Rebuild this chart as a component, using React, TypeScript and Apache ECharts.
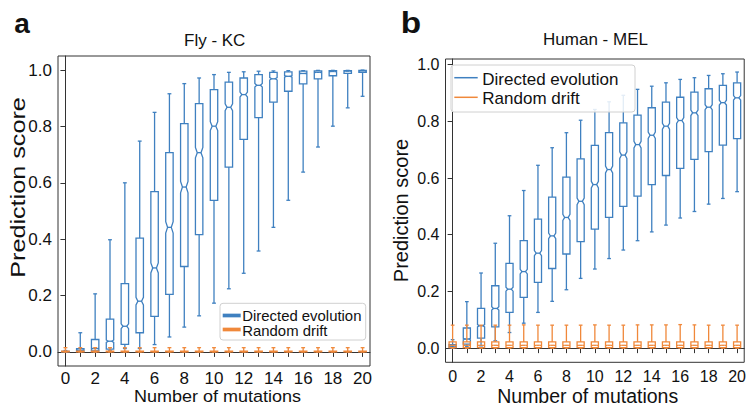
import React, { useEffect, useRef } from 'react';
import * as echarts from 'echarts';

// positions (number of mutations)
const positions = [0, 1, 2, 3, 4, 5, 6, 7, 8, 9, 10, 11, 12, 13, 14, 15, 16, 17, 18, 19, 20];

// [lower whisker, Q1, median, Q3, upper whisker]
const flyDirected = [
  [0.0, 0.0, 0.001, 0.002, 0.005],
  [0.0, 0.003, 0.006, 0.012, 0.068],
  [0.0, 0.004, 0.012, 0.044, 0.206],
  [0.004, 0.01, 0.038, 0.116, 0.398],
  [0.012, 0.027, 0.091, 0.242, 0.6],
  [0.012, 0.068, 0.18, 0.404, 0.748],
  [0.026, 0.126, 0.298, 0.569, 0.85],
  [0.053, 0.204, 0.442, 0.707, 0.916],
  [0.088, 0.303, 0.585, 0.81, 0.952],
  [0.128, 0.416, 0.707, 0.881, 0.972],
  [0.173, 0.538, 0.801, 0.931, 0.984],
  [0.224, 0.656, 0.868, 0.957, 0.992],
  [0.279, 0.754, 0.913, 0.972, 0.994],
  [0.358, 0.831, 0.946, 0.984, 0.996],
  [0.442, 0.886, 0.969, 0.992, 0.997],
  [0.538, 0.925, 0.978, 0.994, 0.998],
  [0.638, 0.951, 0.988, 0.996, 0.998],
  [0.727, 0.969, 0.992, 0.997, 0.999],
  [0.801, 0.98, 0.995, 0.998, 0.999],
  [0.866, 0.988, 0.996, 0.998, 0.999],
  [0.907, 0.992, 0.997, 0.999, 1.0],
];

const flyDrift = [
  [0.0, 0.0, 0.001, 0.003, 0.015],
  [0.0, 0.0, 0.001, 0.003, 0.015],
  [0.0, 0.0, 0.001, 0.003, 0.015],
  [0.0, 0.0, 0.001, 0.003, 0.015],
  [0.0, 0.0, 0.001, 0.003, 0.015],
  [0.0, 0.0, 0.001, 0.003, 0.015],
  [0.0, 0.0, 0.001, 0.003, 0.015],
  [0.0, 0.0, 0.001, 0.003, 0.015],
  [0.0, 0.0, 0.001, 0.003, 0.015],
  [0.0, 0.0, 0.001, 0.003, 0.015],
  [0.0, 0.0, 0.001, 0.003, 0.015],
  [0.0, 0.0, 0.001, 0.003, 0.015],
  [0.0, 0.0, 0.001, 0.003, 0.015],
  [0.0, 0.0, 0.001, 0.003, 0.015],
  [0.0, 0.0, 0.001, 0.003, 0.015],
  [0.0, 0.0, 0.001, 0.003, 0.015],
  [0.0, 0.0, 0.001, 0.003, 0.015],
  [0.0, 0.0, 0.001, 0.003, 0.015],
  [0.0, 0.0, 0.001, 0.003, 0.015],
  [0.0, 0.0, 0.001, 0.003, 0.015],
  [0.0, 0.0, 0.001, 0.003, 0.015],
];

const humanDirected = [
  [0.0, 0.002, 0.005, 0.012, 0.03],
  [0.005, 0.014, 0.032, 0.071, 0.164],
  [0.008, 0.035, 0.079, 0.14, 0.265],
  [0.026, 0.075, 0.14, 0.22, 0.37],
  [0.055, 0.126, 0.208, 0.299, 0.467],
  [0.088, 0.179, 0.27, 0.379, 0.556],
  [0.126, 0.232, 0.335, 0.455, 0.645],
  [0.165, 0.281, 0.396, 0.533, 0.707],
  [0.206, 0.332, 0.461, 0.603, 0.76],
  [0.246, 0.376, 0.518, 0.668, 0.804],
  [0.279, 0.42, 0.577, 0.715, 0.842],
  [0.316, 0.461, 0.63, 0.76, 0.869],
  [0.346, 0.5, 0.681, 0.795, 0.892],
  [0.379, 0.536, 0.718, 0.822, 0.913],
  [0.41, 0.577, 0.751, 0.848, 0.924],
  [0.434, 0.609, 0.783, 0.868, 0.936],
  [0.459, 0.634, 0.803, 0.885, 0.948],
  [0.482, 0.666, 0.83, 0.903, 0.954],
  [0.508, 0.693, 0.85, 0.915, 0.962],
  [0.528, 0.716, 0.866, 0.927, 0.968],
  [0.552, 0.739, 0.883, 0.936, 0.974],
];

const humanDrift = [
  [0.0, 0.002, 0.01, 0.022, 0.081],
  [0.0, 0.002, 0.01, 0.022, 0.081],
  [0.0, 0.002, 0.01, 0.022, 0.081],
  [0.0, 0.002, 0.01, 0.022, 0.081],
  [0.0, 0.002, 0.01, 0.022, 0.081],
  [0.0, 0.002, 0.01, 0.022, 0.082],
  [0.0, 0.002, 0.01, 0.022, 0.081],
  [0.0, 0.002, 0.01, 0.022, 0.081],
  [0.0, 0.002, 0.01, 0.022, 0.081],
  [0.0, 0.002, 0.01, 0.022, 0.081],
  [0.0, 0.002, 0.01, 0.022, 0.082],
  [0.0, 0.002, 0.01, 0.022, 0.081],
  [0.0, 0.002, 0.01, 0.022, 0.081],
  [0.0, 0.002, 0.01, 0.022, 0.082],
  [0.0, 0.002, 0.01, 0.022, 0.082],
  [0.0, 0.002, 0.01, 0.022, 0.082],
  [0.0, 0.002, 0.01, 0.022, 0.083],
  [0.0, 0.002, 0.01, 0.022, 0.082],
  [0.0, 0.002, 0.01, 0.022, 0.081],
  [0.0, 0.002, 0.01, 0.022, 0.081],
  [0.0, 0.002, 0.01, 0.022, 0.081],
];

const xTickValues = [0, 1, 2, 3, 4, 5, 6, 7, 8, 9, 10, 11, 12, 13, 14, 15, 16, 17, 18, 19, 20];
const xLabelValues = [0, 2, 4, 6, 8, 10, 12, 14, 16, 18, 20];
const yTickValues = [0, 0.2, 0.4, 0.6, 0.8, 1.0];

const seriesNames = ['Directed evolution', 'Random drift'];
const panelTitles = ['Fly - KC', 'Human - MEL'];
const panelLetters = ['a', 'b'];
const xAxisTitle = 'Number of mutations';
const yAxisTitle = 'Prediction score';

const BLUE = '#3f80c0';
const ORANGE = '#f0883a';
const FONT = '"Liberation Sans", Arial, Helvetica, sans-serif';
const AXIS = '#333333';

function boxRender(color: string, lw: number) {
  return (params: any, api: any) => {
    const x = api.value(0);
    const mn = api.value(1);
    const q1 = api.value(2);
    const md = api.value(3);
    const q3 = api.value(4);
    const mx = api.value(5);
    const hw = 0.25;
    const nw = 0.125;
    const cw = 0.13;
    const notchH = 0.04 * (q3 - q1);
    const c = (xx: number, yy: number) => api.coord([xx, yy]);
    const nLo = Math.max(q1, md - notchH);
    const nHi = Math.min(q3, md + notchH);
    const pts = [
      c(x - hw, q1), c(x - hw, nLo), c(x - nw, md), c(x - hw, nHi), c(x - hw, q3),
      c(x + hw, q3), c(x + hw, nHi), c(x + nw, md), c(x + hw, nLo), c(x + hw, q1),
    ];
    const st = { stroke: color, lineWidth: lw, fill: 'none' };
    const line = (a: number[], b: number[]) => ({
      type: 'line',
      shape: { x1: a[0], y1: a[1], x2: b[0], y2: b[1] },
      style: st,
    });
    return {
      type: 'group',
      children: [
        { type: 'polygon', shape: { points: pts }, style: st },
        line(c(x - nw, md), c(x + nw, md)),
        line(c(x, q1), c(x, mn)),
        line(c(x, q3), c(x, mx)),
        line(c(x - cw, mn), c(x + cw, mn)),
        line(c(x - cw, mx), c(x + cw, mx)),
      ],
    };
  };
}

function makeAxes(gridIndex: number, tickFont: number, ymax: number, xMargin: number) {
  const xAxis = {
    type: 'value',
    gridIndex,
    min: -0.5,
    max: 20.5,
    axisLine: { show: true, lineStyle: { color: AXIS, width: 1 } },
    axisTick: { show: true, length: 5, customValues: xTickValues, lineStyle: { color: AXIS, width: 1 } },
    axisLabel: { customValues: xLabelValues, fontSize: tickFont, color: '#111', margin: xMargin, fontFamily: FONT },
    splitLine: { show: false },
  };
  const yAxis = {
    type: 'value',
    gridIndex,
    min: -0.05,
    max: ymax,
    axisLine: { show: true, lineStyle: { color: AXIS, width: 1 } },
    axisTick: { show: true, length: 5, customValues: yTickValues, lineStyle: { color: AXIS, width: 1 } },
    axisLabel: {
      customValues: yTickValues,
      fontSize: tickFont,
      color: '#111',
      margin: 6,
      fontFamily: FONT,
      formatter: (v: number) => v.toFixed(1),
    },
    splitLine: { show: false },
  };
  return { xAxis, yAxis };
}

function rows(data: number[][]) {
  return positions.map((p, i) => [p].concat(data[i]));
}

function txt(text: string, x: number, y: number, size: number, opts: any = {}) {
  return {
    type: 'text',
    x,
    y,
    rotation: opts.rotation || 0,
    scaleX: opts.scaleX || 1,
    scaleY: opts.scaleY || 1,
    style: {
      text,
      fill: '#111',
      font: `${opts.bold ? 'bold ' : ''}${size}px ${FONT}`,
      align: opts.align || 'center',
      verticalAlign: 'middle',
    },
    z: 100,
  };
}

function legend(x: number, y: number, w: number, h: number, lineX1: number, lineX2: number, textX: number, rowsY: number[], lineRowsY: number[], fs: number, lw: number, sx: number) {
  const items: any[] = [
    {
      type: 'rect',
      shape: { x, y, width: w, height: h, r: 3 },
      style: { fill: 'rgba(255,255,255,0.85)', stroke: '#d0d0d0', lineWidth: 1 },
      z: 90,
    },
  ];
  const colors = [BLUE, ORANGE];
  seriesNames.forEach((name, i) => {
    items.push({
      type: 'line',
      shape: { x1: lineX1, y1: lineRowsY[i], x2: lineX2, y2: lineRowsY[i] },
      style: { stroke: colors[i], lineWidth: lw },
      z: 95,
    });
    items.push(txt(name, textX, rowsY[i], fs, { align: 'left', scaleX: sx }));
  });
  return items;
}

export default function App() {
  const ref = useRef<HTMLDivElement>(null);
  useEffect(() => {
    if (!ref.current) return;
    const chart = echarts.init(ref.current, undefined, { renderer: 'svg' });
    const a0 = makeAxes(0, 17, 1.05, 4);
    const a1 = makeAxes(1, 16, 1.02, 6);
    const option: any = {
      animation: false,
      backgroundColor: '#ffffff',
      textStyle: { fontFamily: FONT },
      grid: [
        { left: 58, top: 56, width: 312, height: 310, show: true, borderColor: AXIS, borderWidth: 1, backgroundColor: 'transparent' },
        { left: 445.5, top: 59, width: 302.2, height: 303.3, show: true, borderColor: AXIS, borderWidth: 1, backgroundColor: 'transparent' },
      ],
      xAxis: [a0.xAxis, a1.xAxis],
      yAxis: [a0.yAxis, a1.yAxis],
      series: [
        {
          type: 'custom', name: seriesNames[0], xAxisIndex: 0, yAxisIndex: 0,
          renderItem: boxRender(BLUE, 1.3), data: rows(flyDirected),
          encode: { x: 0, y: [1, 2, 3, 4, 5] }, z: 2,
        },
        {
          type: 'custom', name: seriesNames[1], xAxisIndex: 0, yAxisIndex: 0,
          renderItem: boxRender(ORANGE, 1.3), data: rows(flyDrift),
          encode: { x: 0, y: [1, 2, 3, 4, 5] }, z: 3,
        },
        {
          type: 'custom', name: seriesNames[0], xAxisIndex: 1, yAxisIndex: 1,
          renderItem: boxRender(BLUE, 1.3), data: rows(humanDirected),
          encode: { x: 0, y: [1, 2, 3, 4, 5] }, z: 2,
        },
        {
          type: 'custom', name: seriesNames[1], xAxisIndex: 1, yAxisIndex: 1,
          renderItem: boxRender(ORANGE, 1.3), data: rows(humanDrift),
          encode: { x: 0, y: [1, 2, 3, 4, 5] }, z: 3,
        },
      ],
      graphic: [
        txt(panelLetters[0], 22, 23.5, 28, { bold: true }),
        txt(panelLetters[1], 411, 23, 29, { bold: true, scaleX: 1.15 }),
        txt(panelTitles[0], 214.7, 40, 17),
        txt(panelTitles[1], 595.5, 39, 17),
        txt(xAxisTitle, 217.5, 396.5, 17, { scaleX: 1.06 }),
        txt(xAxisTitle, 587.7, 396, 19.5),
        txt(yAxisTitle, 17.5, 187.5, 20, { rotation: Math.PI / 2, scaleX: 1.26 }),
        txt(yAxisTitle, 401.3, 210.5, 20, { rotation: Math.PI / 2 }),
        ...legend(220, 303.3, 145.7, 36.7, 222.7, 240.7, 242.3, [315.6, 330.6], [315.5, 329.5], 14.6, 3.7, 1.02),
        ...legend(451, 65, 184, 47, 454.3, 477.7, 482.3, [79.7, 98.4], [77.7, 97.3], 17, 1.5, 1),
      ],
    };
    chart.setOption(option);
    return () => {
      chart.dispose();
    };
  }, []);
  return (
    <div
      ref={ref}
      style={{ position: 'absolute', left: 0, top: 0, width: 749, height: 406 }}
    />
  );
}
